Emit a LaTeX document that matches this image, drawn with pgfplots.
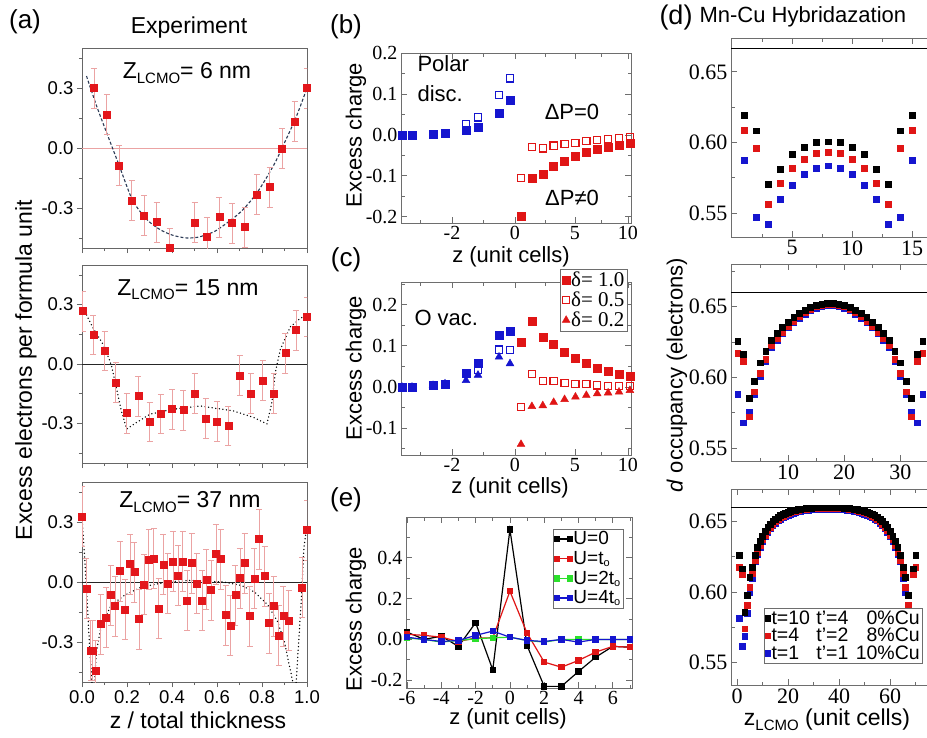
\documentclass[border=0pt]{standalone}
\usepackage[no-math]{fontspec}
\setmainfont{Liberation Sans}
\newfontfamily\tms{Liberation Serif}
\usepackage{pgfplots}
\usepackage{pgfplotstable}
\pgfplotsset{compat=1.18}

\newcommand\fs[1]{\fontsize{#1}{#1}\selectfont}
\definecolor{ared}{HTML}{E3161B}
\definecolor{epink}{HTML}{EBA3A3}
\definecolor{fitblue}{HTML}{2B3A55}
\definecolor{bblue}{HTML}{1515CF}
\definecolor{bred}{HTML}{E01515}
\definecolor{egreen}{HTML}{2BE02B}
\definecolor{frame}{HTML}{6E6E6E}

\pgfplotsset{
  every axis/.append style={scale only axis, /pgf/number format/assume math mode=true},
  pa/.style={width=225pt, height=200pt, xmin=0, xmax=1, ymin=-0.5, ymax=0.5, clip=true,
    axis line style={draw=black!60, line width=0.9pt},
    tick style={draw=black!60, line width=0.8pt},
    tick align=outside, tick pos=left,
    major tick length=5pt, minor tick length=3pt,
    xtick={0,0.2,0.4,0.6,0.8,1}, minor xtick={0.1,0.3,0.5,0.7,0.9},
    ytick={-0.3,0,0.3}, minor ytick={-0.45,-0.15,0.15,0.45},
    tick label style={font=\fs{18.5}},
    yticklabel style={/pgf/number format/fixed, /pgf/number format/fixed zerofill, /pgf/number format/precision=1},
    xticklabels={}},
  xm/.style={clip=false,
    axis line style={draw=frame, line width=0.9pt},
    tick style={draw=frame, line width=0.8pt},
    tick align=inside, major tick length=6pt, minor tick length=3.5pt,
    tick label style={font=\tms\fs{20}},
    xticklabel={\tms\pgfmathprintnumber{\tick}},
    yticklabel={\tms\pgfmathprintnumber{\tick}},
    yticklabel style={/pgf/number format/fixed, /pgf/number format/fixed zerofill, /pgf/number format/precision=1}},
  dm/.style={xm, width=204pt,
    tick label style={font=\tms\fs{22}},
    ytick={0.55,0.6,0.65}, minor ytick={0.525,0.575,0.625,0.675},
    yticklabel style={/pgf/number format/fixed, /pgf/number format/fixed zerofill, /pgf/number format/precision=2}},
  errp/.style={only marks, mark=square*, mark size=3.5pt, color=ared,
    error bars/.cd, y dir=both, y fixed=#1,
    error bar style={color=epink, line width=0.7pt},
    error mark options={rotate=90, mark size=3pt, epink}},
  onemark/.style={legend image code/.code={\draw[##1] plot coordinates {(0pt,0pt)};}},
}

% panel (d) occupancies: x, black, red, blue
\pgfplotstableread{
x k r b
1 0.6194 0.6087 0.5875
2 0.6083 0.5957 0.5468
3 0.5704 0.5560 0.5421
4 0.5809 0.5714 0.5596
5 0.5917 0.5820 0.5697
6 0.5965 0.5880 0.5773
7 0.6000 0.5922 0.5820
8 0.6005 0.5929 0.5835
9 0.6000 0.5922 0.5820
10 0.5965 0.5880 0.5773
11 0.5917 0.5820 0.5697
12 0.5809 0.5714 0.5596
13 0.5704 0.5560 0.5421
14 0.6083 0.5957 0.5468
15 0.6194 0.6087 0.5875
}\dOne

\pgfplotstableread{
x k r b
1 0.6257 0.6170 0.5880
2 0.6165 0.6116 0.5680
3 0.5851 0.5722 0.5757
4 0.5974 0.5899 0.5880
5 0.6104 0.6028 0.6010
6 0.6182 0.6127 0.6110
7 0.6264 0.6224 0.6214
8 0.6311 0.6275 0.6265
9 0.6354 0.6320 0.6310
10 0.6391 0.6360 0.6350
11 0.6424 0.6397 0.6387
12 0.6453 0.6430 0.6420
13 0.6476 0.6458 0.6448
14 0.6495 0.6482 0.6472
15 0.6509 0.6499 0.6489
16 0.6519 0.6511 0.6501
17 0.6523 0.6517 0.6507
18 0.6523 0.6517 0.6507
19 0.6519 0.6511 0.6501
20 0.6509 0.6499 0.6489
21 0.6495 0.6482 0.6472
22 0.6476 0.6458 0.6448
23 0.6453 0.6430 0.6420
24 0.6424 0.6397 0.6387
25 0.6391 0.6360 0.6350
26 0.6354 0.6320 0.6310
27 0.6311 0.6275 0.6265
28 0.6264 0.6224 0.6214
29 0.6182 0.6127 0.6110
30 0.6104 0.6028 0.6010
31 0.5974 0.5899 0.5880
32 0.5851 0.5722 0.5757
33 0.6165 0.6116 0.5680
34 0.6257 0.6170 0.5880
}\dTwo

\pgfplotstableread{
x k r b
1 0.6260 0.6177 0.5816
2 0.6165 0.6123 0.5615
3 0.5858 0.5740 0.5688
4 0.5976 0.5905 0.5850
5 0.6106 0.6035 0.6000
6 0.6177 0.6130 0.6100
7 0.6260 0.6225 0.6215
8 0.6315 0.6280 0.6270
9 0.6360 0.6328 0.6318
10 0.6398 0.6370 0.6360
11 0.6430 0.6405 0.6395
12 0.6458 0.6435 0.6425
13 0.6480 0.6460 0.6450
14 0.6500 0.6482 0.6472
15 0.6517 0.6500 0.6490
16 0.6530 0.6515 0.6505
17 0.6542 0.6528 0.6518
18 0.6552 0.6539 0.6529
19 0.6560 0.6549 0.6539
20 0.6567 0.6557 0.6547
21 0.6573 0.6564 0.6554
22 0.6578 0.6570 0.6560
23 0.6582 0.6575 0.6565
24 0.6586 0.6579 0.6569
25 0.6589 0.6583 0.6573
26 0.6591 0.6586 0.6576
27 0.6593 0.6589 0.6579
28 0.6595 0.6591 0.6581
29 0.6596 0.6593 0.6583
30 0.6597 0.6594 0.6584
31 0.6598 0.6595 0.6585
32 0.6598 0.6595 0.6585
33 0.6598 0.6595 0.6585
34 0.6598 0.6595 0.6585
35 0.6598 0.6595 0.6585
36 0.6598 0.6595 0.6585
37 0.6598 0.6595 0.6585
38 0.6598 0.6595 0.6585
39 0.6598 0.6595 0.6585
40 0.6598 0.6595 0.6585
41 0.6597 0.6594 0.6584
42 0.6596 0.6593 0.6583
43 0.6595 0.6591 0.6581
44 0.6593 0.6589 0.6579
45 0.6591 0.6586 0.6576
46 0.6589 0.6583 0.6573
47 0.6586 0.6579 0.6569
48 0.6582 0.6575 0.6565
49 0.6578 0.6570 0.6560
50 0.6573 0.6564 0.6554
51 0.6567 0.6557 0.6547
52 0.6560 0.6549 0.6539
53 0.6552 0.6539 0.6529
54 0.6542 0.6528 0.6518
55 0.6530 0.6515 0.6505
56 0.6517 0.6500 0.6490
57 0.6500 0.6482 0.6472
58 0.6480 0.6460 0.6450
59 0.6458 0.6435 0.6425
60 0.6430 0.6405 0.6395
61 0.6398 0.6370 0.6360
62 0.6360 0.6328 0.6318
63 0.6315 0.6280 0.6270
64 0.6260 0.6225 0.6215
65 0.6177 0.6130 0.6100
66 0.6106 0.6035 0.6000
67 0.5976 0.5905 0.5850
68 0.5858 0.5740 0.5688
69 0.6165 0.6123 0.5615
70 0.6260 0.6177 0.5816
}\dThree

\begin{document}
\begin{tikzpicture}
\useasboundingbox (0,0) rectangle (927pt,-737pt);
\fill[white] (0,0) rectangle (927pt,-737pt);
\clip (0,0) rectangle (927pt,-737pt);

% ---------- (a) experiment ----------
\begin{axis}[pa, at={(82pt,-48pt)}, anchor=north west]
\addplot[epink, line width=0.8pt] coordinates {(0,0) (1,0)};
\addplot[fitblue, densely dashed, line width=1.1pt, smooth] coordinates {(0.02,0.36) (0.065,0.21) (0.11,0.075) (0.165,-0.087) (0.22,-0.25) (0.26,-0.32) (0.3,-0.37) (0.35,-0.41) (0.4,-0.435) (0.45,-0.448) (0.48,-0.45) (0.52,-0.445) (0.56,-0.43) (0.6,-0.41) (0.7,-0.325) (0.777,-0.225) (0.85,-0.09) (0.889,0) (0.95,0.15) (1.0,0.3)};
\addplot[errp=0.1] coordinates {(0.053,0.30) (0.11,0.167) (0.165,-0.087) (0.221,-0.263) (0.276,-0.338) (0.332,-0.37) (0.389,-0.5) (0.5,-0.372) (0.555,-0.445) (0.611,-0.345) (0.666,-0.375) (0.723,-0.395) (0.777,-0.233) (0.834,-0.195) (0.889,-0.003) (0.945,0.133) (1.0,0.30)};
\end{axis}

\begin{axis}[pa, at={(82pt,-265pt)}, anchor=north west, height=198pt]
\addplot[black!85, line width=0.9pt] coordinates {(0,0) (1,0)};
\addplot[black, line width=1.5pt, dash pattern=on 0pt off 3.6pt, line cap=round] coordinates {(0.006,0.28) (0.05,0.18) (0.1,0.088) (0.132,-0.012) (0.154,-0.128) (0.177,-0.245) (0.199,-0.328) (0.243,-0.295) (0.303,-0.253) (0.407,-0.228) (0.525,-0.212) (0.674,-0.237) (0.763,-0.27) (0.822,-0.303) (0.844,-0.195) (0.859,-0.045) (0.881,0.072) (0.926,0.188) (0.97,0.23) (1.0,0.247)};
\addplot[errp=0.1] coordinates {(0.003,0.267) (0.05,0.147) (0.1,0.067) (0.15,-0.092) (0.199,-0.248) (0.251,-0.162) (0.3,-0.292) (0.35,-0.25) (0.4,-0.228) (0.451,-0.232) (0.5,-0.148) (0.55,-0.275) (0.6,-0.29) (0.651,-0.312) (0.7,-0.057) (0.75,-0.148) (0.803,-0.083) (0.852,-0.148) (0.904,0.055) (0.951,0.172) (1.0,0.238)};
\end{axis}

\begin{axis}[pa, at={(82pt,-482pt)}, anchor=north west,
  xticklabels={0.0,0.2,0.4,0.6,0.8,1.0}]
\addplot[black!85, line width=0.9pt] coordinates {(0,0) (1,0)};
\addplot[black, line width=1.5pt, dash pattern=on 0pt off 3.6pt, line cap=round] coordinates {(0,0.323) (0.012,0.116) (0.024,-0.116) (0.034,-0.33) (0.044,-0.5) (0.05,-0.56) (0.056,-0.5) (0.064,-0.35) (0.086,-0.215) (0.13,-0.116) (0.19,-0.066) (0.264,-0.025) (0.38,0) (0.48,0.008) (0.63,0) (0.708,-0.017) (0.767,-0.05) (0.827,-0.116) (0.87,-0.2) (0.9,-0.3) (0.92,-0.41) (0.937,-0.5) (0.945,-0.56) (0.952,-0.5) (0.963,-0.3) (0.975,-0.083) (0.986,0.166) (0.997,0.265)};
\addplot[errp=0.15] coordinates {(0.0,0.327) (0.02,-0.031) (0.039,-0.342) (0.048,-0.342) (0.061,-0.441) (0.083,-0.21) (0.107,-0.177) (0.128,-0.064) (0.147,-0.119) (0.169,0.055) (0.191,-0.136) (0.214,0.091) (0.233,0.051) (0.254,-0.185) (0.276,-0.012) (0.297,0.112) (0.318,0.117) (0.34,-0.131) (0.362,0.088) (0.381,-0.008) (0.404,0.104) (0.426,0.033) (0.447,0.104) (0.467,-0.091) (0.488,0.096) (0.51,-0.008) (0.533,-0.091) (0.553,0.013) (0.574,-0.04) (0.595,0.14) (0.617,0.116) (0.638,-0.165) (0.659,-0.218) (0.681,-0.064) (0.702,0.021) (0.723,0.096) (0.745,-0.169) (0.766,0.018) (0.786,0.215) (0.812,0.03) (0.831,-0.205) (0.852,-0.119) (0.874,-0.268) (0.895,-0.169) (0.918,-0.193) (0.978,-0.028) (1.0,0.261)};
\end{axis}

\node[font=\fs{26}] at (25pt,-22pt) {(a)};
\node[font=\fs{23}] at (189pt,-28pt) {Experiment};
\node[font=\fs{23}] at (187pt,-73pt) {Z\raisebox{-0.35ex}{\fs{15}LCMO}= 6 nm};
\node[font=\fs{23}] at (188pt,-290pt) {Z\raisebox{-0.35ex}{\fs{15}LCMO}= 15 nm};
\node[font=\fs{23}] at (190pt,-502pt) {Z\raisebox{-0.35ex}{\fs{15}LCMO}= 37 nm};
\node[rotate=90, font=\fs{23}] at (26pt,-370pt) {Excess electrons per formula unit};
\node[font=\fs{23}] at (198pt,-720pt) {z / total thickness};

% ---------- (b) polar discontinuity ----------
\begin{axis}[xm, at={(401pt,-53pt)}, anchor=north west, width=230pt, height=170pt,
  xmin=-10.36, xmax=10.55, ymin=-0.215, ymax=0.2,
  xtick={-5.73,0,5.45,10.27}, xticklabels={{\tms-2},{\tms0},{\tms5},{\tms10}}, minor xtick={-8.6,-2.87,2.73,7.86},
  ytick={-0.2,-0.1,0,0.1,0.2}, minor ytick={-0.15,-0.05,0.05,0.15}]
\addplot[only marks, mark=square, mark size=3.6pt, bblue, mark options={line width=1.2pt}] coordinates {(-10.27,0) (-9.36,0) (-7.45,0.0025) (-6.36,0.004) (-4.45,0.026) (-3.36,0.043) (-1.45,0.098) (-0.45,0.138)};
\addplot[only marks, mark=square*, mark size=4pt, bblue] coordinates {(-10.27,0) (-9.36,0) (-7.45,0.0025) (-6.36,0.004) (-4.45,0.012) (-3.36,0.02) (-1.45,0.053) (-0.45,0.084)};
\addplot[only marks, mark=square, mark size=3.6pt, bred, mark options={line width=1.2pt}] coordinates {(0.55,-0.105) (1.54,-0.03) (2.53,-0.033) (3.52,-0.026) (4.51,-0.022) (5.5,-0.019) (6.49,-0.015) (7.48,-0.012) (8.47,-0.01) (9.46,-0.008) (10.45,-0.006)};
\addplot[only marks, mark=square*, mark size=4pt, bred] coordinates {(0.55,-0.199) (1.54,-0.105) (2.53,-0.097) (3.52,-0.076) (4.51,-0.064) (5.5,-0.053) (6.49,-0.043) (7.48,-0.034) (8.47,-0.029) (9.46,-0.025) (10.45,-0.02)};
\end{axis}
\node[font=\fs{26}] at (346pt,-27pt) {(b)};
\node[rotate=90, font=\fs{22}] at (356pt,-135pt) {Excess charge};
\node[font=\fs{22}] at (511pt,-257pt) {z (unit cells)};
\node[font=\fs{22}, anchor=west] at (414pt,-64pt) {Polar};
\node[font=\fs{22}, anchor=west] at (414pt,-94pt) {disc.};
\node[font=\fs{22}] at (572pt,-112pt) {ΔP=0};
\node[font=\fs{22}] at (572pt,-198pt) {ΔP≠0};

% ---------- (c) oxygen vacancies ----------
\begin{axis}[xm, onemark, at={(401pt,-282pt)}, anchor=north west, width=230pt, height=173pt,
  xmin=-10.36, xmax=10.55, ymin=-0.165, ymax=0.255,
  xtick={-5.73,0,5.45,10.27}, xticklabels={{\tms-2},{\tms0},{\tms5},{\tms10}}, minor xtick={-8.6,-2.87,2.73,7.86},
  ytick={-0.1,0,0.1,0.2}, minor ytick={-0.15,-0.05,0.05,0.15,0.25},
  legend style={at={(0.983,1.075)}, anchor=north east, draw=frame, fill=white,
    font=\tms\fs{21}, inner sep=1.5pt, nodes={inner sep=1pt}, row sep=2pt, legend cell align=left}]
\addplot[forget plot, only marks, mark=square, mark size=3.6pt, bblue, mark options={line width=1.2pt}] coordinates {(-10.27,0) (-9.36,0) (-7.45,0.004) (-6.36,0.008) (-4.45,0.033) (-3.36,0.042) (-1.45,0.091) (-0.45,0.09)};
\addplot[forget plot, only marks, mark=triangle*, mark size=4.5pt, bblue] coordinates {(-10.27,0) (-9.36,0) (-7.45,0.004) (-6.36,0.008) (-4.45,0.016) (-3.36,0.029) (-1.45,0.073) (-0.45,0.057)};
\addplot[forget plot, only marks, mark=square*, mark size=4pt, bblue] coordinates {(-10.27,0) (-9.36,0) (-7.45,0.004) (-6.36,0.008) (-4.45,0.034) (-3.36,0.059) (-1.45,0.127) (-0.45,0.135)};
\addplot[forget plot, only marks, mark=square, mark size=3.6pt, bred, mark options={line width=1.2pt}] coordinates {(0.55,-0.049) (1.54,0.031) (2.53,0.014) (3.52,0.014) (4.51,0.01) (5.5,0.008) (6.49,0.007) (7.48,0.004) (8.47,0.002) (9.46,0.002) (10.45,0.002)};
\addplot[forget plot, only marks, mark=triangle*, mark size=4.5pt, bred] coordinates {(0.55,-0.139) (1.54,-0.047) (2.53,-0.045) (3.52,-0.037) (4.51,-0.03) (5.5,-0.024) (6.49,-0.02) (7.48,-0.016) (8.47,-0.014) (9.46,-0.012) (10.45,-0.008)};
\addplot[forget plot, only marks, mark=square*, mark size=4pt, bred] coordinates {(0.55,0.108) (1.54,0.159) (2.53,0.122) (3.52,0.104) (4.51,0.084) (5.5,0.069) (6.49,0.057) (7.48,0.045) (8.47,0.039) (9.46,0.031) (10.45,0.026)};
\addlegendimage{only marks, mark=square*, mark size=4pt, bred}
\addlegendentry{δ= 1.0}
\addlegendimage{only marks, mark=square, mark size=3.6pt, bred, mark options={line width=1.2pt}}
\addlegendentry{δ= 0.5}
\addlegendimage{only marks, mark=triangle*, mark size=4.5pt, bred}
\addlegendentry{δ= 0.2}
\end{axis}
\node[font=\fs{26}] at (346pt,-260pt) {(c)};
\node[rotate=90, font=\fs{22}] at (356pt,-368pt) {Excess charge};
\node[font=\fs{22}] at (510pt,-488pt) {z (unit cells)};
\node[font=\fs{22}, anchor=west] at (411pt,-318pt) {O vac.};

% ---------- (e) Hubbard U ----------
\begin{axis}[xm, at={(406pt,-517pt)}, anchor=north west, width=226pt, height=171pt,
  xmin=-6.06, xmax=7.12, ymin=-0.238, ymax=0.6,
  xtick={-6,-4,-2,0,2,4,6}, minor xtick={-5,-3,-1,1,3,5,7},
  ytick={-0.2,0,0.2,0.4}, minor ytick={-0.1,0.1,0.3,0.5},
  xticklabel style={/pgf/number format/fixed},
  legend style={at={(0.96,0.93)}, anchor=north east, draw=frame, fill=white,
    font=\fs{19}, inner sep=1.5pt, nodes={inner sep=1pt}, row sep=3pt, legend cell align=left},
  legend image code/.code={\draw[#1] plot coordinates {(0pt,0pt) (13pt,0pt)};}]
\addplot[black, line width=1.2pt, mark=square*, mark size=2.6pt] coordinates {(-6,0.036) (-5,0) (-4,0.016) (-3,-0.034) (-2,0.082) (-1,-0.149) (0,0.539) (1,-0.03) (2,-0.23) (3,-0.23) (4,-0.157) (5,-0.087) (6,-0.034) (7,-0.038)};
\addlegendentry{U=0}
\addplot[bred, line width=1.2pt, mark=square*, mark size=2.6pt] coordinates {(-6,0.025) (-5,0.02) (-4,0.011) (-3,-0.01) (-2,0.007) (-1,0.008) (0,0.236) (1,0.031) (2,-0.111) (3,-0.136) (4,-0.103) (5,-0.062) (6,-0.034) (7,-0.038)};
\addlegendentry{U=t\raisebox{-0.2ex}{\fs{11}o}}
\addplot[egreen, line width=1.2pt, mark=square*, mark size=2.6pt] coordinates {(-6,0.007) (-5,0) (-4,-0.013) (-3,-0.005) (-2,0.003) (-1,0.008) (0,0.011) (1,-0.005) (2,-0.013) (3,0) (4,0) (5,0) (6,0) (7,0)};
\addlegendentry{U=2t\raisebox{-0.2ex}{\fs{11}o}}
\addplot[bblue, line width=1.2pt, mark=square*, mark size=2.6pt] coordinates {(-6,0.011) (-5,0) (-4,-0.01) (-3,-0.005) (-2,0.02) (-1,0.041) (0,0.011) (1,-0.005) (2,-0.01) (3,0) (4,-0.013) (5,0) (6,0) (7,0)};
\addlegendentry{U=4t\raisebox{-0.2ex}{\fs{11}o}}
\end{axis}
\node[font=\fs{26}] at (346pt,-500pt) {(e)};
\node[rotate=90, font=\fs{22}] at (356pt,-619pt) {Excess charge};
\node[font=\fs{22}] at (508pt,-719pt) {z (unit cells)};

% ---------- (d) Mn-Cu hybridization ----------
\begin{axis}[dm, at={(731pt,-38pt)}, anchor=north west, height=199pt,
  xmin=-0.1, xmax=16.9, ymin=0.533, ymax=0.674,
  xtick={5,10,15}, minor xtick={2.5,7.5,12.5}]
\addplot[black, line width=0.9pt] coordinates {(-0.1,0.6666) (16.9,0.6666)};
\addplot[only marks, mark=square*, mark size=2.9pt, bblue] table[x=x, y=b] {\dOne};
\addplot[only marks, mark=square*, mark size=2.9pt, bred] table[x=x, y=r] {\dOne};
\addplot[only marks, mark=square*, mark size=2.9pt, black] table[x=x, y=k] {\dOne};
\end{axis}

\begin{axis}[dm, at={(731pt,-264pt)}, anchor=north west, height=197pt,
  xmin=-0.2, xmax=36.2, ymin=0.541, ymax=0.68,
  xtick={10,20,30}, minor xtick={5,15,25,35}]
\addplot[black, line width=0.9pt] coordinates {(-0.2,0.66) (36.2,0.66)};
\addplot[only marks, mark=square*, mark size=2.9pt, bblue] table[x=x, y=b] {\dTwo};
\addplot[only marks, mark=square*, mark size=2.9pt, bred] table[x=x, y=r] {\dTwo};
\addplot[only marks, mark=square*, mark size=2.9pt, black] table[x=x, y=k] {\dTwo};
\end{axis}

\begin{axis}[dm, onemark, at={(731pt,-489pt)}, anchor=north west, height=196pt,
  xmin=-2.35, xmax=77.6, ymin=0.534, ymax=0.673,
  xtick={0,20,40,60}, minor xtick={10,30,50,70},
  legend style={at={(0.936,0.112)}, anchor=south east, draw=frame, fill=white,
    font=\fs{19.5}, inner sep=1pt, nodes={inner sep=1pt}, row sep=0.5pt, legend cell align=left}]
\addplot[forget plot, black, line width=0.9pt] coordinates {(-2.35,0.66) (77.6,0.66)};
\addplot[forget plot, only marks, mark=square*, mark size=2.9pt, bblue] table[x=x, y=b] {\dThree};
\addplot[forget plot, only marks, mark=square*, mark size=2.9pt, bred] table[x=x, y=r] {\dThree};
\addplot[forget plot, only marks, mark=square*, mark size=2.9pt, black] table[x=x, y=k] {\dThree};
\addlegendimage{only marks, mark=square*, mark size=2.9pt, black}
\addlegendentry{\makebox[2.3em][l]{t=10}\makebox[2.05em][l]{t'=4}\makebox[3.25em][r]{0\%Cu}}
\addlegendimage{only marks, mark=square*, mark size=2.9pt, bred}
\addlegendentry{\makebox[2.3em][l]{t=4}\makebox[2.05em][l]{t'=2}\makebox[3.25em][r]{8\%Cu}}
\addlegendimage{only marks, mark=square*, mark size=2.9pt, bblue}
\addlegendentry{\makebox[2.3em][l]{t=1}\makebox[2.05em][l]{t'=1}\makebox[3.25em][r]{10\%Cu}}
\end{axis}
\node[font=\fs{27}] at (676pt,-18pt) {(d)};
\node[font=\fs{22}, anchor=west] at (696pt,-17pt) {Mn-Cu Hybridazation};
\node[rotate=90, font=\fs{22}] at (677pt,-375pt) {\textit{d} occupancy (electrons)};
\node[font=\fs{23}] at (827pt,-720pt) {z\raisebox{-0.35ex}{\fs{15}LCMO} (unit cells)};
\end{tikzpicture}
\end{document}
